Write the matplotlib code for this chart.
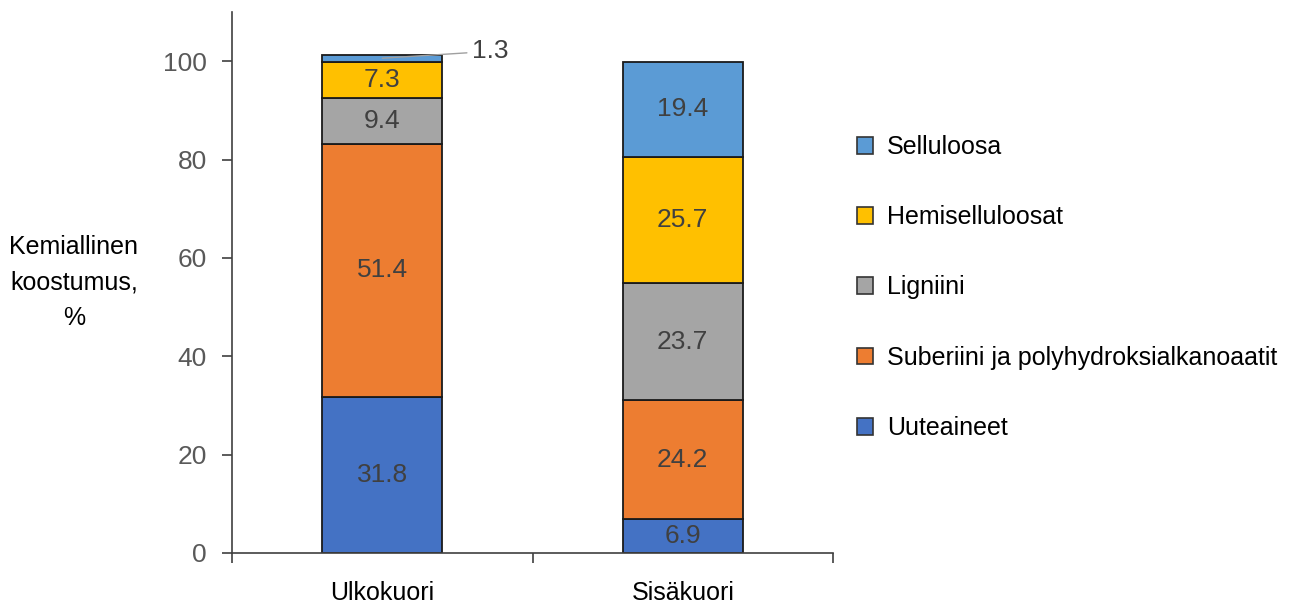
import numpy as np
import matplotlib.pyplot as plt
from matplotlib.patches import Patch

plt.rcParams['font.family'] = ['Liberation Sans', 'DejaVu Sans']

# Kuoren kemiallinen koostumus (%)
kuoret = ['Ulkokuori', 'Sisäkuori']
komponentit = ['Uuteaineet', 'Suberiini ja polyhydroksialkanoaatit', 'Ligniini',
               'Hemiselluloosat', 'Selluloosa']
uuteaineet = [31.8, 6.9]
suberiini = [51.4, 24.2]
ligniini = [9.4, 23.7]
hemiselluloosat = [7.3, 25.7]
selluloosa = [1.3, 19.4]
varit = ['#4472C4', '#ED7D31', '#A5A5A5', '#FFC000', '#5B9BD5']

sarjat = [uuteaineet, suberiini, ligniini, hemiselluloosat, selluloosa]

fig = plt.figure(figsize=(12.94, 6.08), dpi=100)
ax = fig.add_axes([0.1793, 0.0905, 0.4645, 0.8898])

x = np.arange(len(kuoret))
pohja = np.zeros(len(kuoret))
for arvot, vari in zip(sarjat, varit):
    arvot = np.array(arvot)
    ax.bar(x, arvot, 0.4, bottom=pohja, color=vari, edgecolor='#1a1a1a', linewidth=1.3, zorder=2)
    for i, v in enumerate(arvot):
        if v < 3:
            # pieni osuus: arvo sivulle viivan kanssa
            ax.annotate(f'{v:.1f}', xy=(x[i], pohja[i] + v - 0.6), xytext=(x[i] + 0.3, pohja[i] + v + 0.8),
                        fontsize=19, color='#404040', va='center', ha='left',
                        arrowprops=dict(arrowstyle='-', color='#a0a0a0', lw=1.0, shrinkA=2, shrinkB=0))
        else:
            ax.text(x[i], pohja[i] + v / 2, f'{v:.1f}', ha='center', va='center',
                    fontsize=19, color='#404040', zorder=3)
    pohja += arvot

ax.set_xlim(-0.5, 1.5)
ax.set_ylim(0, 110)
ax.set_yticks(np.arange(0, 101, 20))
ax.tick_params(axis='y', labelsize=19, labelcolor='#595959', length=7, width=1.2, color='#404040', pad=11)
ax.set_xticks([-0.5, 0.5, 1.5])
ax.set_xticklabels([])
ax.tick_params(axis='x', length=7, width=1.2, color='#404040', direction='out')
ax.set_xticks(x, minor=True)
ax.set_xticklabels(kuoret, minor=True, fontsize=18)
ax.tick_params(axis='x', which='minor', length=0, pad=20)
for s in ['top', 'right']:
    ax.spines[s].set_visible(False)
ax.spines['left'].set_color('#404040')
ax.spines['bottom'].set_color('#404040')
ax.spines['left'].set_linewidth(1.2)
ax.spines['bottom'].set_linewidth(1.2)

fig.text(0.057, 0.536, 'Kemiallinen\nkoostumus,\n%', ha='center', va='center',
         fontsize=18, linespacing=1.6)

kahvat = [Patch(facecolor=c, edgecolor='#333333', linewidth=1.2) for c in varit]
fig.legend(kahvat[::-1], komponentit[::-1], loc='upper left', bbox_to_anchor=(0.645, 0.815),
           frameon=False, fontsize=18, handlelength=0.65, handleheight=0.65,
           handletextpad=0.55, labelspacing=1.85)

fig.savefig('out.png', dpi=100)
